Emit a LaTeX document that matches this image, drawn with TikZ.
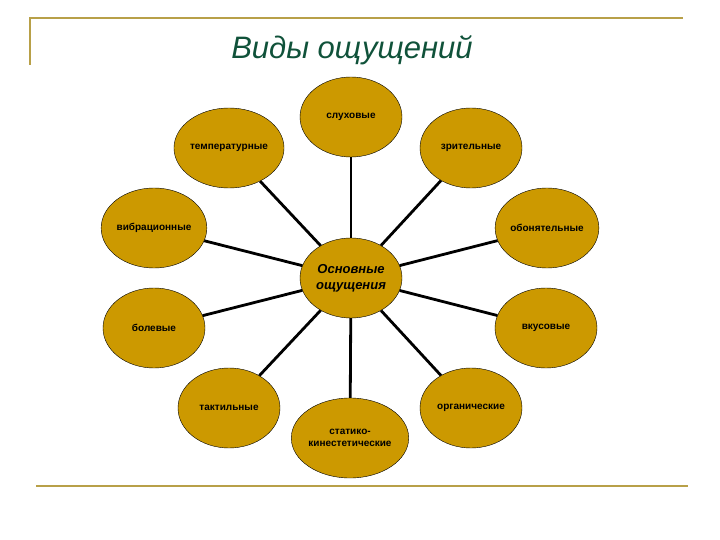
\documentclass[tikz,border=0pt]{standalone}
\usepackage{fontspec}
\setmainfont{Liberation Sans}
\usetikzlibrary{shapes.geometric}
\definecolor{gold}{RGB}{204,153,0}
\definecolor{frameline}{RGB}{184,160,72}
\definecolor{titlegreen}{RGB}{16,82,58}
\tikzset{
  sense/.style={ellipse,draw=black,thin,fill=gold,minimum width=102pt,minimum height=80pt,
    inner sep=0pt,font=\fontsize{10}{12}\selectfont\bfseries,align=center},
  spoke/.style={draw=black,line width=2.8pt}
}

\begin{document}
\begin{tikzpicture}[x=1pt,y=-1pt]
    \useasboundingbox (0,0) rectangle (720,540);
    % frame
    \draw[frameline,line width=2pt] (30,65) -- (30,18) -- (683,18);
    \draw[frameline,line width=2.5pt] (36,486) -- (688,486);
    \node[titlegreen,font=\fontsize{31}{34}\selectfont\itshape] (T) at (352,50) {Виды ощущений};
    % senses
    \node[sense,font=\fontsize{13}{16}\selectfont\bfseries\itshape] (main) at (351,278) {Основные\\ощущения};
    \node[sense] (hear) at (351,117) {слуховые};
    \node[sense] (temp) at (229,148) {температурные};
    \node[sense] (see) at (471,148) {зрительные};
    \node[sense] (vib) at (154,228) {вибрационные};
    \node[sense] (smell) at (547,228) {обонятельные};
    \node[sense] (pain) at (154,328) {болевые};
    \node[sense] (taste) at (546,328) {вкусовые};
    \node[sense] (touch) at (229,408) {тактильные};
    \node[sense] (organ) at (471,408) {органические};
    \node[sense] (kin) at (350,438) {статико-\\кинестетические};
    % spokes
    \foreach \s in {hear,temp,see,vib,smell,pain,taste,touch,organ,kin}
      \draw[spoke] (main) -- (\s);
\end{tikzpicture}
\end{document}
